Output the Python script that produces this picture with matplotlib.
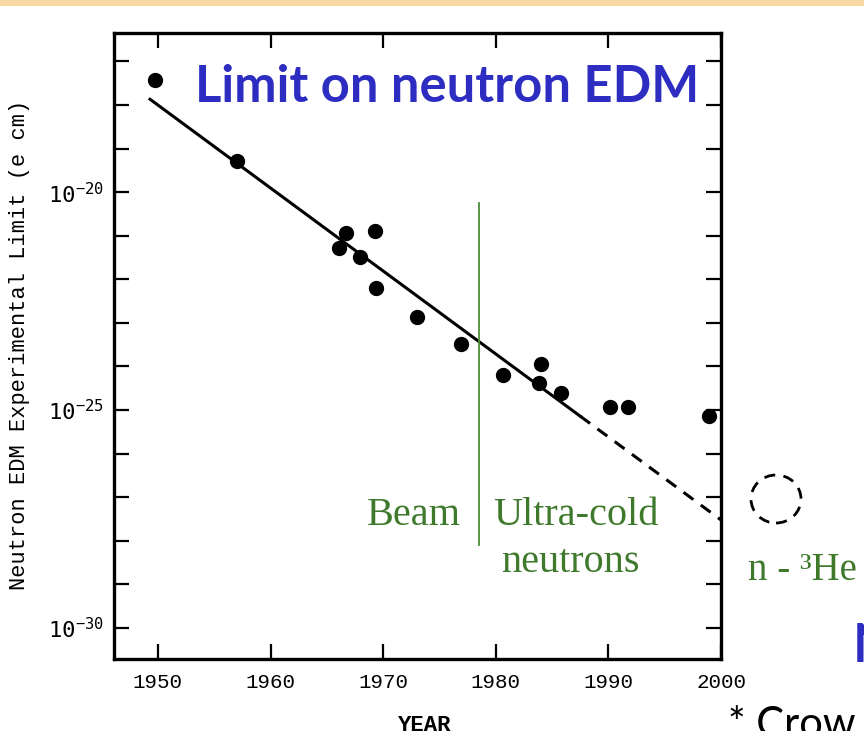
"""Limit on neutron EDM vs year, recreated from a slide screenshot."""

import math

import matplotlib

matplotlib.use("Agg")
import matplotlib.pyplot as plt
from matplotlib.patches import Ellipse, Rectangle
from matplotlib.ticker import FixedLocator, FuncFormatter, NullLocator

# measured points: year and log10 of the EDM limit (e cm)
years = [1949.7, 1957.0, 1966.1, 1966.7, 1967.9, 1969.3, 1969.4, 1973.0,
         1976.9, 1980.6, 1983.8, 1984.0, 1985.8, 1990.1, 1991.7, 1998.9]
log_limits = [-17.43, -19.29, -21.28, -20.94, -21.49, -20.89, -22.20, -22.87,
              -23.49, -24.20, -24.38, -23.94, -24.61, -24.93, -24.93, -25.14]

# trend line, solid part then extrapolated (dashed) part
fit_solid_years = [1949.3, 1987.5]
fit_solid_logs = [-17.87, -25.14]
fit_dash_years = [1987.5, 2000.0]
fit_dash_logs = [-25.14, -27.52]

# beam / ultra-cold divider
divider_year = 1978.5
divider_logs = [-20.25, -28.10]

x_ticks = [1950, 1960, 1970, 1980, 1990, 2000]
y_decades = list(range(-30, -16))
y_labelled = [-30, -25, -20]

MONO = ["Liberation Mono", "DejaVu Sans Mono"]
SERIF = ["Liberation Serif", "DejaVu Serif"]
SANS = ["Lato", "DejaVu Sans"]
GREEN = "#3f7a2c"
BLUE = "#2d2dc2"

W, H = 864, 731


def fx(px):
    return px / W


def fy(py):
    return 1 - py / H


def decade_label(v, pos):
    d = round(math.log10(v))
    return r"$\mathtt{10^{%d}}$" % d if d in y_labelled else ""


fig = plt.figure(figsize=(8.64, 7.31), dpi=100)
fig.patch.set_facecolor("white")

# orange band at the top of the slide
fig.patches.append(Rectangle((0, fy(6)), 1, 6 / H, transform=fig.transFigure,
                             facecolor="#f8d9a3", edgecolor="none"))

ax = fig.add_axes([fx(114), fy(659), fx(607), 626 / H])
ax.set_yscale("log")
ax.set_xlim(1946.1, 2000.0)
ax.set_ylim(10 ** -30.71, 10 ** -16.35)

ax.plot(years, [10 ** v for v in log_limits], "o", color="black", markersize=10)
ax.plot(fit_solid_years, [10 ** v for v in fit_solid_logs], color="black", lw=2.2)
ax.plot(fit_dash_years, [10 ** v for v in fit_dash_logs], color="black", lw=2.2,
        dashes=(4, 3))
ax.plot([divider_year, divider_year], [10 ** v for v in divider_logs],
        color="#4d8c3a", lw=1.3)

for side in ax.spines.values():
    side.set_linewidth(2.4)

ax.xaxis.set_major_locator(FixedLocator(x_ticks))
ax.yaxis.set_major_locator(FixedLocator([10.0 ** d for d in y_decades]))
ax.yaxis.set_minor_locator(NullLocator())
ax.yaxis.set_major_formatter(FuncFormatter(decade_label))
ax.tick_params(axis="both", which="major", direction="in", length=11, width=1.6,
               top=True, right=True, pad=10)
ax.tick_params(axis="x", labelsize=15)
ax.tick_params(axis="y", labelsize=16, pad=7)
for lab in ax.get_xticklabels():
    lab.set_family(MONO)

fig.text(fx(20), fy(345), "Neutron EDM Experimental Limit (e cm)", rotation=90,
         ha="center", va="center", family=MONO, fontsize=15.8)
fig.text(fx(425), fy(715), "YEAR", ha="center", va="top", family=MONO,
         fontsize=16, fontweight="bold")

# slide annotations
fig.text(fx(195), fy(102), "Limit on neutron EDM", color=BLUE, fontsize=36.5,
         fontweight="bold", family=SANS, va="baseline")
fig.text(fx(367), fy(525), "Beam", color=GREEN, fontsize=29, family=SERIF,
         va="baseline")
fig.text(fx(493), fy(525), "Ultra-cold", color=GREEN, fontsize=29, family=SERIF,
         va="baseline")
fig.text(fx(570), fy(572), "neutrons", color=GREEN, fontsize=29, family=SERIF,
         va="baseline", ha="center")
fig.text(fx(748), fy(580), "n - \u00b3He", color=GREEN, fontsize=28, family=SERIF,
         va="baseline")
fig.patches.append(Ellipse((fx(776), fy(499)), 50 / W, 48 / H,
                           transform=fig.transFigure, fill=False,
                           edgecolor="black", lw=2, linestyle=(0, (4, 3))))
fig.text(fx(853), fy(662), "N", color=BLUE, fontsize=38, fontweight="bold",
         family=SANS, va="baseline")
fig.text(fx(728), fy(706), "* Crow", color="black", fontsize=30,
         family=SANS, va="top")

fig.savefig("out.png", dpi=100)
